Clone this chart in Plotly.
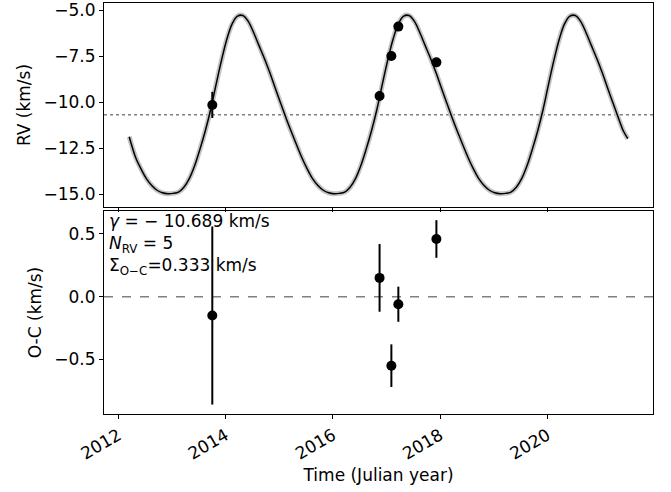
import plotly.graph_objects as go
from plotly.subplots import make_subplots

# RV measurements and their residuals
obs_year = [2013.75, 2016.87, 2017.09, 2017.22, 2017.93]
obs_rv = [-10.15, -9.67, -7.50, -5.90, -7.84]
obs_err = [0.71, 0.27, 0.17, 0.14, 0.15]
obs_oc = [-0.15, 0.15, -0.55, -0.06, 0.46]

gamma = -10.689
n_rv = 5
sigma_oc = 0.333

# orbit model, every 0.1 yr
model_year = [
    2012.20, 2012.32, 2012.42, 2012.52, 2012.62, 2012.72, 2012.82, 2012.92,
    2013.02, 2013.12, 2013.22, 2013.32, 2013.42, 2013.52, 2013.62, 2013.72,
    2013.82, 2013.92, 2014.02, 2014.12, 2014.22, 2014.32, 2014.42, 2014.52,
    2014.62, 2014.72, 2014.82, 2014.92, 2015.02, 2015.12, 2015.22, 2015.32,
    2015.42, 2015.52, 2015.62, 2015.72, 2015.82, 2015.92, 2016.02, 2016.12,
    2016.22, 2016.32, 2016.42, 2016.52, 2016.62, 2016.72, 2016.82, 2016.92,
    2017.02, 2017.12, 2017.22, 2017.32, 2017.42, 2017.52, 2017.62, 2017.72,
    2017.82, 2017.92, 2018.02, 2018.12, 2018.22, 2018.32, 2018.42, 2018.52,
    2018.62, 2018.72, 2018.82, 2018.92, 2019.02, 2019.12, 2019.22, 2019.32,
    2019.42, 2019.52, 2019.62, 2019.72, 2019.82, 2019.92, 2020.02, 2020.12,
    2020.22, 2020.32, 2020.42, 2020.52, 2020.62, 2020.72, 2020.82, 2020.92,
    2021.02, 2021.12, 2021.22, 2021.32, 2021.42, 2021.50,
]
model_rv = [
    -11.88, -13.00, -13.62, -14.15, -14.52, -14.78, -14.92, -14.97,
    -14.95, -14.88, -14.62, -14.15, -13.45, -12.55, -11.55, -10.40,
    -9.05, -7.75, -6.60, -5.75, -5.33, -5.30, -5.62, -6.22,
    -6.92, -7.62, -8.38, -9.20, -10.02, -10.82, -11.58, -12.30,
    -13.00, -13.62, -14.15, -14.52, -14.78, -14.92, -14.97,
    -14.95, -14.88, -14.62, -14.15, -13.45, -12.55, -11.55, -10.40,
    -9.05, -7.75, -6.60, -5.75, -5.33, -5.30, -5.62, -6.22,
    -6.92, -7.62, -8.38, -9.20, -10.02, -10.82, -11.58, -12.30,
    -13.00, -13.62, -14.15, -14.52, -14.78, -14.92, -14.97,
    -14.95, -14.88, -14.62, -14.15, -13.45, -12.55, -11.55, -10.40,
    -9.05, -7.75, -6.60, -5.75, -5.33, -5.30, -5.62, -6.22,
    -6.92, -7.62, -8.38, -9.20, -10.02, -10.82, -11.58, -11.98,
]

font = "DejaVu Sans"
fsize = 17

fig = make_subplots(rows=2, cols=1, shared_xaxes=True)

# uncertainty band under the model curve
fig.add_trace(go.Scatter(x=model_year, y=model_rv, mode="lines",
                         line=dict(color="#c4c4c4", width=5, shape="spline"),
                         hoverinfo="skip"), row=1, col=1)
fig.add_trace(go.Scatter(x=model_year, y=model_rv, mode="lines",
                         line=dict(color="black", width=1.5, shape="spline")),
              row=1, col=1)
fig.add_trace(go.Scatter(x=obs_year, y=obs_rv, mode="markers",
                         marker=dict(color="black", size=10),
                         error_y=dict(type="data", array=obs_err, color="black",
                                      thickness=2, width=0)),
              row=1, col=1)
fig.add_trace(go.Scatter(x=obs_year, y=obs_oc, mode="markers",
                         marker=dict(color="black", size=10),
                         error_y=dict(type="data", array=obs_err, color="black",
                                      thickness=2, width=0)),
              row=2, col=1)

fig.add_shape(type="line", xref="x domain", yref="y", x0=0, x1=1, y0=gamma, y1=gamma,
              line=dict(color="gray", width=1.5, dash="dot"), layer="below")
fig.add_shape(type="line", xref="x2 domain", yref="y2", x0=0, x1=1, y0=0, y1=0,
              line=dict(color="gray", width=1.5, dash="dash"), layer="below")

fig.add_annotation(
    xref="x2 domain", yref="y2 domain", x=0.005, y=1.01, xanchor="left", yanchor="top",
    align="left", showarrow=False, font=dict(size=fsize, color="black", family=font),
    text=(f"<i>γ</i> = − {abs(gamma):.3f} km/s<br>"
          f"<i>N</i><sub>RV</sub> = {n_rv}<br>"
          f"Σ<sub>O−C</sub>={sigma_oc:.3f} km/s"),
)

title_font = dict(size=fsize, family=font, color="black")
axis_style = dict(showline=True, linecolor="black", linewidth=1, mirror=True,
                  ticks="outside", ticklen=4, tickcolor="black", showgrid=False,
                  zeroline=False, automargin=False, ticklabeloverflow="allow",
                  tickfont=dict(size=fsize, color="black", family=font))

fig.update_xaxes(**axis_style, range=[2011.73, 2021.97], tickvals=[2012, 2014, 2016, 2018, 2020])
fig.update_xaxes(row=2, col=1, tickangle=-30,
                 title=dict(text="Time (Julian year)", font=title_font, standoff=6))
fig.update_yaxes(**axis_style)
fig.update_yaxes(row=1, col=1, range=[-15.69, -4.62], tickvals=[-15, -12.5, -10, -7.5, -5],
                 tickformat=".1f", domain=[0.5036, 1.0],
                 title=dict(text="RV (km/s)", font=title_font, standoff=8))
fig.update_yaxes(row=2, col=1, range=[-0.935, 0.683], tickvals=[-0.5, 0, 0.5],
                 tickformat=".1f", domain=[0.0, 0.4939],
                 title=dict(text="O-C (km/s)", font=title_font, standoff=8))

fig.update_layout(
    width=671, height=492, showlegend=False,
    margin=dict(l=104, r=18, t=3, b=78),
    plot_bgcolor="white", paper_bgcolor="white",
    font=dict(family=font, color="black"),
)

# drop the default page margin so the figure sits at the window's corner
fig.write_html("out.html", config={"displayModeBar": False},
               post_script="document.body.style.margin = '0';")
